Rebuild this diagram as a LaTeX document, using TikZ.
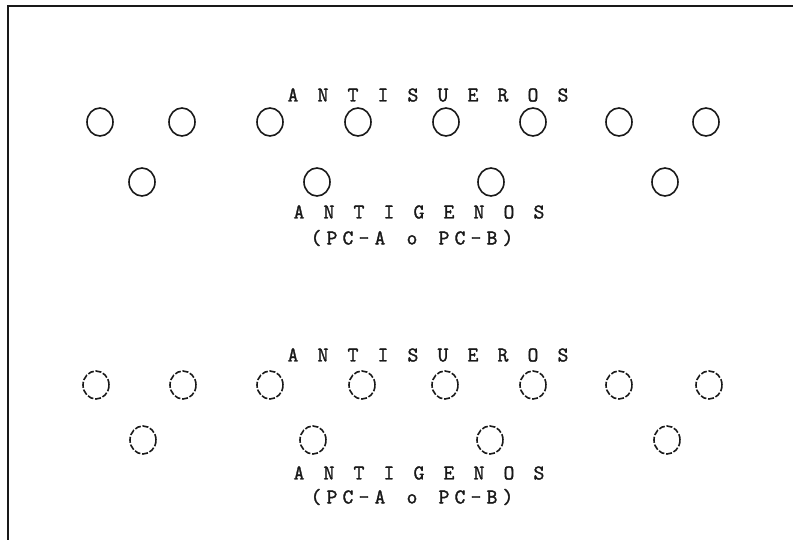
\documentclass[tikz,border=0pt]{standalone}
\usepackage{fontspec}
\usetikzlibrary{shapes.geometric}
\newfontfamily\twfont{Latin Modern Mono}[BoldFont={Latin Modern Mono}, BoldFeatures={FakeBold=1.6}]
\newdimen\twpitch \twpitch=15pt
\def\twspread#1{\twspreadA#1\relax}
\def\twspreadA#1{\ifx#1\relax\else\makebox[\twpitch]{#1}\expandafter\twspreadA\fi}
\tikzset{
  lbl/.style={font=\twfont\bfseries\fontsize{21}{24}\selectfont, inner sep=0pt, text=black!90},
  well/.style={draw=black!90, ellipse, minimum width=26pt, minimum height=28pt, inner sep=0pt, line width=1.6pt},
  wellb/.style={well, dash pattern=on 6pt off 1.8pt},
  frame/.style={draw=black!90, line width=1.8pt}
}
\begin{document}
\begin{tikzpicture}[x=1pt,y=-1pt]
\useasboundingbox (0,0) rectangle (793,540);
\coordinate (fbl) at (8,540);
\coordinate (ftl) at (8,6);
\coordinate (ftr) at (793,6);
\draw[frame] (fbl) -- (ftl) -- (ftr);

% upper panel
\node[lbl] (as1) at (428,95) {\twspread{A~N~T~I~S~U~E~R~O~S}};
\foreach \x [count=\i] in {100,182,270,358,446,533,619,706}
  \node[well] (ua\i) at (\x,122) {};
\foreach \x [count=\i] in {142,317,491,665}
  \node[well] (ug\i) at (\x,182) {};
\node[lbl] (ag1) at (419,212) {\twspread{A~N~T~I~G~E~N~O~S}};
\node[lbl] (pc1) at (412,238) {\twpitch=16pt\twspread{(PC-A~o~PC-B)}};

% lower panel
\node[lbl] (as2) at (428,355) {\twspread{A~N~T~I~S~U~E~R~O~S}};
\foreach \x [count=\i] in {96,183,270,362,445,533,619,709}
  \node[wellb] (la\i) at (\x,385) {};
\foreach \x [count=\i] in {143,313,490,667}
  \node[wellb] (lg\i) at (\x,440) {};
\node[lbl] (ag2) at (419,473) {\twspread{A~N~T~I~G~E~N~O~S}};
\node[lbl] (pc2) at (412,497) {\twpitch=16pt\twspread{(PC-A~o~PC-B)}};
\end{tikzpicture}
\end{document}
